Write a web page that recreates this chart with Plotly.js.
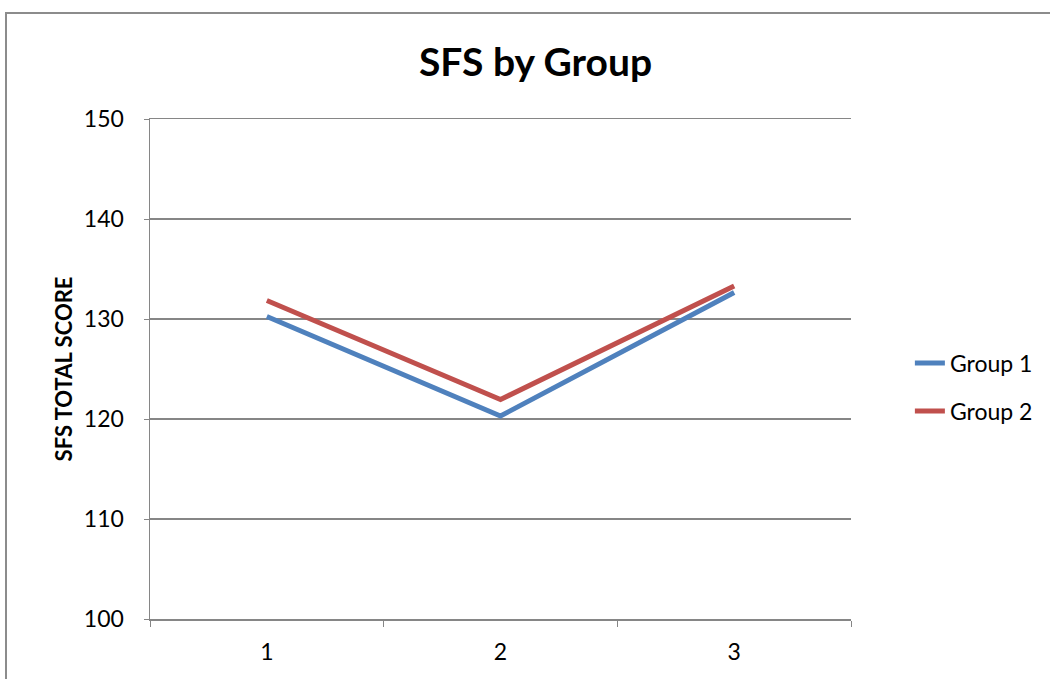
<!DOCTYPE html>
<html><head><meta charset="utf-8">
<script src="https://cdn.plot.ly/plotly-3.0.1.min.js"></script>
<style>
body{margin:0;padding:0;background:#fff;}
#chart{width:1050px;height:679px;position:absolute;left:0;top:0;}
#frame{position:absolute;left:5px;top:12px;width:1100px;height:700px;border-left:2px solid #8c8c8c;border-top:2px solid #8c8c8c;pointer-events:none;}
</style></head>
<body>
<div id="chart"></div>
<div id="frame"></div>
<script>
const categories = ["1", "2", "3"];
const group1 = [130.25, 120.3, 132.65];
const group2 = [131.85, 121.95, 133.3];
const seriesNames = ["Group 1", "Group 2"];
const chartTitle = "SFS by Group";
const yTitle = "SFS TOTAL SCORE";
const yTicks = [100, 110, 120, 130, 140, 150];

const fontFam = "Lato, 'Open Sans', 'Noto Sans', sans-serif";
const traces = [
  {x: categories, y: group1, name: seriesNames[0], type: "scatter", mode: "lines",
   line: {color: "#4F81BD", width: 5}, legend: "legend"},
  {x: categories, y: group2, name: seriesNames[1], type: "scatter", mode: "lines",
   line: {color: "#C0504D", width: 5}, legend: "legend2"}
];
const layout = {
  width: 1050, height: 679,
  margin: {l: 150, r: 193, t: 119, b: 60},
  paper_bgcolor: "#fff", plot_bgcolor: "#fff",
  font: {family: fontFam, color: "#000", size: 23},
  title: {text: "<b>" + chartTitle + "</b>", font: {size: 39, family: fontFam, color: "#000"},
          x: 0.51, xanchor: "center", y: 0.908, yanchor: "middle"},
  xaxis: {type: "category", range: [-0.5, 2.5], tickson: "boundaries", ticks: "outside", ticklen: 6,
          tickcolor: "#868686", showgrid: false, showline: true, mirror: true, linecolor: "#868686",
          linewidth: 1.5, tickfont: {size: 23}, ticklabelstandoff: 12, zeroline: false, fixedrange: true},
  yaxis: {range: [100, 150], tickvals: yTicks, ticks: "outside", ticklen: 5, tickcolor: "#868686",
          showgrid: true, gridcolor: "#868686", gridwidth: 1.2, showline: true, linecolor: "#868686",
          linewidth: 1.5, zeroline: false, tickfont: {size: 23}, ticklabelstandoff: 15,
          title: {text: "<b>" + yTitle + "</b>", font: {size: 22}, standoff: 5}},
  showlegend: true,
  legend: {x: 1.084, y: 0.512, xanchor: "left", yanchor: "middle", font: {size: 23},
           bgcolor: "rgba(0,0,0,0)", itemwidth: 30},
  legend2: {x: 1.084, y: 0.416, xanchor: "left", yanchor: "middle", font: {size: 23},
           bgcolor: "rgba(0,0,0,0)", itemwidth: 30}
};
Plotly.newPlot("chart", traces, layout, {displayModeBar: false, staticPlot: true});
</script>
</body></html>
